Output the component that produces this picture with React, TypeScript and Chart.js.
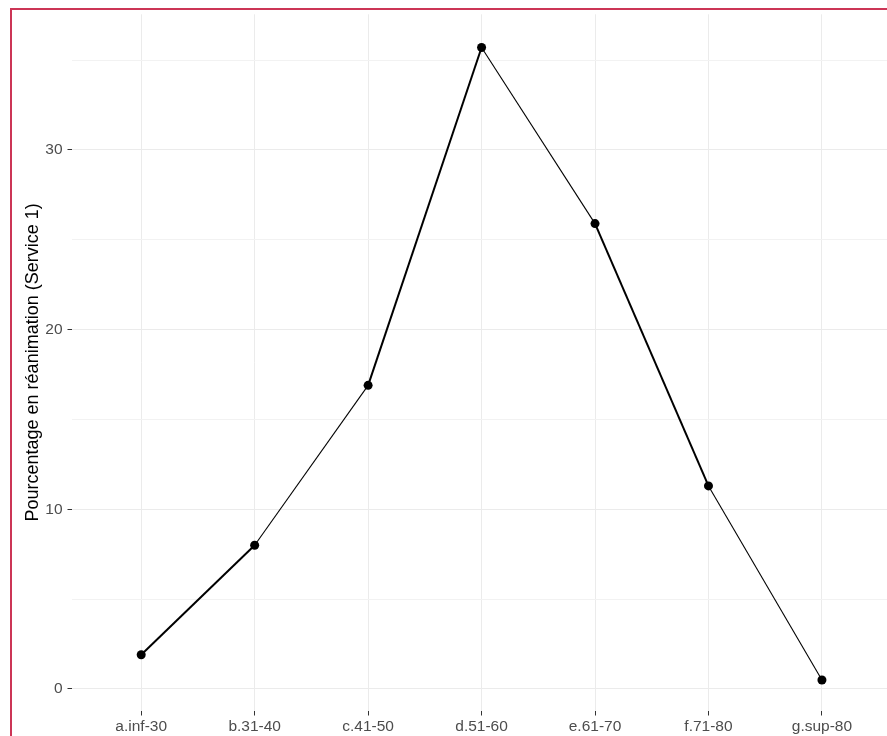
import React, { useEffect, useRef } from "react";
import { Chart, registerables } from "chart.js";

Chart.register(...registerables);

const categories = ["a.inf-30", "b.31-40", "c.41-50", "d.51-60", "e.61-70", "f.71-80", "g.sup-80"];
const percentages = [1.9, 8.0, 16.9, 35.7, 25.9, 11.3, 0.5];
const yGridValues = [0, 5, 10, 15, 20, 25, 30, 35];
const yLabelledValues = [0, 10, 20, 30];
const yTitle = "Pourcentage en réanimation (Service 1)";

const FONT = "'Liberation Sans', Arial, sans-serif";

export default function App() {
  const ref = useRef<HTMLCanvasElement | null>(null);

  useEffect(() => {
    if (!ref.current) return;
    const chart = new Chart(ref.current, {
      type: "line",
      data: {
        datasets: [
          {
            data: categories.map((_, i) => ({ x: i, y: percentages[i] })),
            borderColor: "#000000",
            backgroundColor: "#000000",
            borderWidth: 1,
            pointRadius: 4.5,
            pointBorderWidth: 0,
            pointBackgroundColor: "#000000",
            tension: 0,
            segment: {
              borderWidth: (ctx: any) => (ctx.p0DataIndex % 2 === 0 ? 2 : 1.1),
            },
          },
        ],
      },
      options: {
        animation: false,
        responsive: false,
        layout: { padding: { top: 13, right: 10, left: 0, bottom: 0 } },
        plugins: { legend: { display: false }, tooltip: { enabled: false } },
        scales: {
          x: {
            type: "linear",
            min: -0.61,
            max: 6.6,
            border: { display: false },
            afterBuildTicks: (scale: any) => {
              scale.ticks = categories.map((_, i) => ({ value: i }));
            },
            afterFit: (scale: any) => {
              scale.height = 25.5;
            },
            grid: {
              color: "#ebebeb",
              lineWidth: 1,
              tickLength: 5,
              tickColor: "#333333",
              tickWidth: 1,
            },
            ticks: {
              autoSkip: false,
              maxRotation: 0,
              padding: 2,
              color: "#4d4d4d",
              font: { family: FONT, size: 15.5 },
              callback: (v: any) => categories[v] ?? "",
            },
          },
          y: {
            type: "linear",
            min: -1.2,
            max: 37.55,
            border: { display: false },
            afterBuildTicks: (scale: any) => {
              scale.ticks = yGridValues.map((v) => ({ value: v }));
            },
            afterFit: (scale: any) => {
              scale.width = 72;
            },
            grid: {
              color: (ctx: any) => (yLabelledValues.includes(ctx.tick?.value) ? "#ebebeb" : "#f2f2f2"),
              lineWidth: 1,
              tickLength: 4.5,
              tickColor: (ctx: any) => (yLabelledValues.includes(ctx.tick?.value) ? "#333333" : "rgba(0,0,0,0)"),
              tickWidth: 1,
            },
            ticks: {
              padding: 5,
              color: "#4d4d4d",
              font: { family: FONT, size: 15.5 },
              callback: (v: any) => (yLabelledValues.includes(v) ? String(v) : ""),
            },
            title: {
              display: true,
              text: yTitle,
              color: "#000000",
              font: { family: FONT, size: 18 },
              padding: { top: 22, bottom: 0 },
            },
          },
        },
      },
    });
    return () => chart.destroy();
  }, []);

  return (
    <div
      style={{
        position: "absolute",
        left: 0,
        top: 0,
        width: 887,
        height: 736,
        overflow: "hidden",
        background: "#ffffff",
      }}
    >
      <canvas ref={ref} width={900} height={736} style={{ position: "absolute", left: 0, top: 0 }} />
      <div
        style={{
          position: "absolute",
          left: 10,
          top: 8,
          width: 1000,
          height: 1000,
          borderLeft: "2px solid #cc3556",
          borderTop: "2px solid #cc3556",
          pointerEvents: "none",
        }}
      />
    </div>
  );
}
